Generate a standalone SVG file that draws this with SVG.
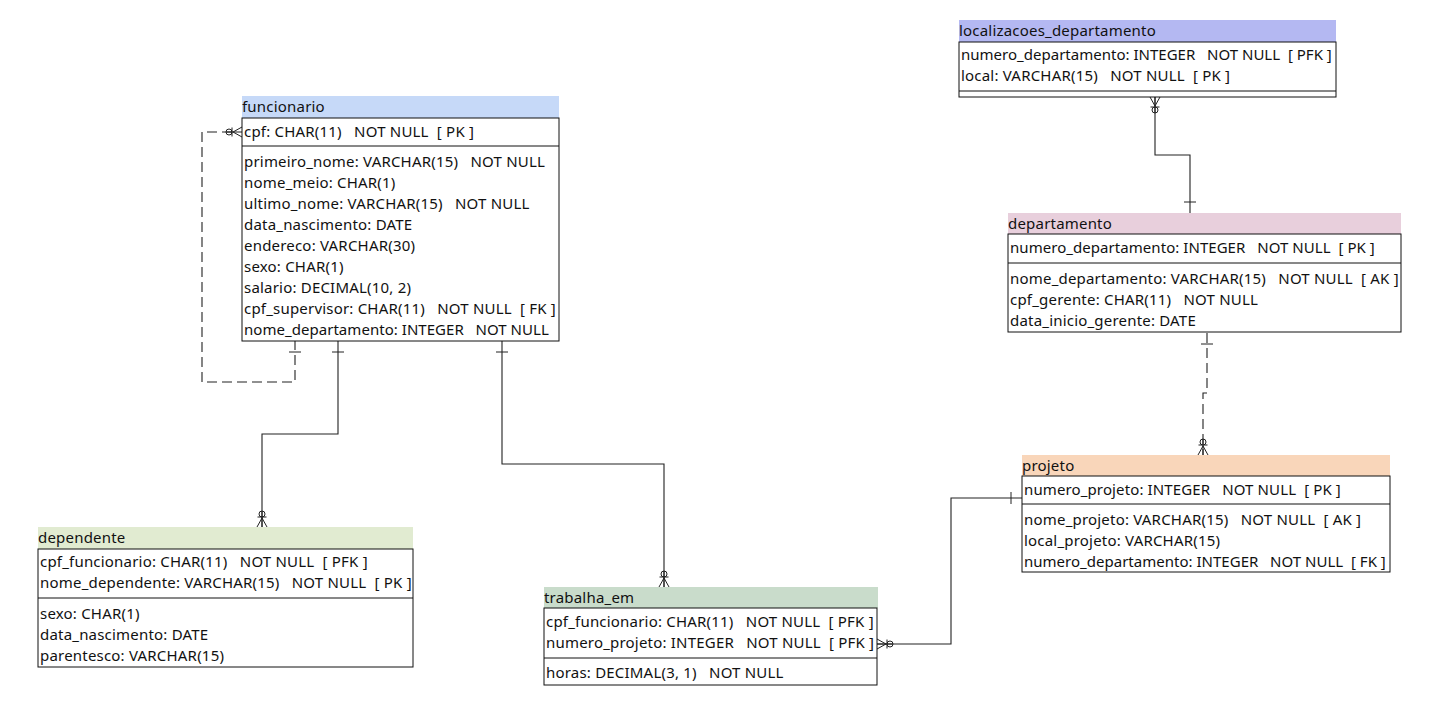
<svg xmlns="http://www.w3.org/2000/svg" xmlns:xlink="http://www.w3.org/1999/xlink" width="1430" height="716" viewBox="0 0 1430 716" xml:space="preserve">
<style>
text{font-family:"Noto Sans","Open Sans","DejaVu Sans",sans-serif;font-size:15px;letter-spacing:0.2px;fill:#111;white-space:pre}
.box{fill:#fff;stroke:#111;stroke-width:1}
.div{stroke:#111;stroke-width:1}
.conn{fill:none;stroke:#222;stroke-width:1.1}
.dash{stroke-dasharray:10,5}
.sym{fill:none;stroke:#222;stroke-width:1}
</style>
<defs>
<g id="zm" class="sym">
<path d="M-5,0 L0,-9 L5,0 M0,0 V-16"/>
<path d="M-4.5,-10 H4.5"/>
<circle cx="0" cy="-13" r="3"/>
</g>
<g id="one" class="sym">
<path d="M-6,-11 H6"/>
</g>
</defs>
<rect width="1430" height="716" fill="#fff"/>

<g id="connectors">
<path class="conn dash" d="M232,132 H202 V382 H295 V341"/>
<path class="conn" d="M338,341 V434 H262 V527"/>
<path class="conn" d="M502,341 V464 H664 V587"/>
<path class="conn" d="M1022,498 H951 V644 H877"/>
<path class="conn" d="M1155,97 V155 H1190 V213"/>
<path class="conn dash" d="M1207,333 V393 H1203 V455"/>
<use xlink:href="#zm" transform="translate(242,132) rotate(-90)"/>
<use xlink:href="#one" transform="translate(295,341) rotate(180)"/>
<use xlink:href="#one" transform="translate(338,341) rotate(180)"/>
<use xlink:href="#zm" transform="translate(262,527)"/>
<use xlink:href="#one" transform="translate(502,341) rotate(180)"/>
<use xlink:href="#zm" transform="translate(664,587)"/>
<use xlink:href="#one" transform="translate(1022,498) rotate(-90)"/>
<use xlink:href="#zm" transform="translate(877,644) rotate(90)"/>
<use xlink:href="#zm" transform="translate(1155,97) rotate(180)"/>
<use xlink:href="#one" transform="translate(1190,213)"/>
<use xlink:href="#one" transform="translate(1207,333) rotate(180)"/>
<use xlink:href="#zm" transform="translate(1203,455)"/>
</g>

<g id="funcionario">
<rect x="242" y="96" width="317" height="22" fill="#c6d9f8"/>
<text x="242" y="112">funcionario</text>
<rect class="box" x="242" y="118" width="317" height="223"/>
<line class="div" x1="242" y1="146" x2="559" y2="146"/>
<text x="244" y="137">cpf: CHAR(11)   NOT NULL  [ PK ]</text>
<text x="244" y="167">primeiro_nome: VARCHAR(15)   NOT NULL</text>
<text x="244" y="188">nome_meio: CHAR(1)</text>
<text x="244" y="209">ultimo_nome: VARCHAR(15)   NOT NULL</text>
<text x="244" y="230">data_nascimento: DATE</text>
<text x="244" y="251">endereco: VARCHAR(30)</text>
<text x="244" y="272">sexo: CHAR(1)</text>
<text x="244" y="293">salario: DECIMAL(10, 2)</text>
<text x="244" y="314">cpf_supervisor: CHAR(11)   NOT NULL  [ FK ]</text>
<text x="244" y="335" textLength="305" lengthAdjust="spacing">nome_departamento: INTEGER   NOT NULL</text>
</g>

<g id="localizacoes_departamento">
<rect x="959" y="20" width="377" height="22" fill="#b4b8f2"/>
<text x="959" y="36">localizacoes_departamento</text>
<rect class="box" x="959" y="42" width="377" height="55"/>
<line class="div" x1="959" y1="91" x2="1336" y2="91"/>
<text x="961" y="60" textLength="371" lengthAdjust="spacing">numero_departamento: INTEGER   NOT NULL  [ PFK ]</text>
<text x="961" y="81">local: VARCHAR(15)   NOT NULL  [ PK ]</text>
</g>

<g id="departamento">
<rect x="1008" y="213" width="393" height="21" fill="#e8cfdc"/>
<text x="1008" y="229">departamento</text>
<rect class="box" x="1008" y="234" width="393" height="98"/>
<line class="div" x1="1008" y1="263" x2="1401" y2="263"/>
<text x="1010" y="253" textLength="365" lengthAdjust="spacing">numero_departamento: INTEGER   NOT NULL  [ PK ]</text>
<text x="1010" y="284">nome_departamento: VARCHAR(15)   NOT NULL  [ AK ]</text>
<text x="1010" y="305">cpf_gerente: CHAR(11)   NOT NULL</text>
<text x="1010" y="326">data_inicio_gerente: DATE</text>
</g>

<g id="projeto">
<rect x="1022" y="455" width="368" height="21" fill="#f9d6ba"/>
<text x="1022" y="471">projeto</text>
<rect class="box" x="1022" y="476" width="368" height="96"/>
<line class="div" x1="1022" y1="504" x2="1390" y2="504"/>
<text x="1024" y="495" textLength="317" lengthAdjust="spacing">numero_projeto: INTEGER   NOT NULL  [ PK ]</text>
<text x="1024" y="525">nome_projeto: VARCHAR(15)   NOT NULL  [ AK ]</text>
<text x="1024" y="546">local_projeto: VARCHAR(15)</text>
<text x="1024" y="567" textLength="362" lengthAdjust="spacing">numero_departamento: INTEGER   NOT NULL  [ FK ]</text>
</g>

<g id="dependente">
<rect x="38" y="527" width="375" height="22" fill="#e1ebd1"/>
<text x="38" y="543">dependente</text>
<rect class="box" x="38" y="549" width="375" height="118"/>
<line class="div" x1="38" y1="598" x2="413" y2="598"/>
<text x="40" y="567">cpf_funcionario: CHAR(11)   NOT NULL  [ PFK ]</text>
<text x="40" y="588">nome_dependente: VARCHAR(15)   NOT NULL  [ PK ]</text>
<text x="40" y="619">sexo: CHAR(1)</text>
<text x="40" y="640">data_nascimento: DATE</text>
<text x="40" y="661">parentesco: VARCHAR(15)</text>
</g>

<g id="trabalha_em">
<rect x="544" y="587" width="334" height="21" fill="#c9dccb"/>
<text x="544" y="603">trabalha_em</text>
<rect class="box" x="544" y="608" width="333" height="77"/>
<line class="div" x1="544" y1="658" x2="877" y2="658"/>
<text x="546" y="627">cpf_funcionario: CHAR(11)   NOT NULL  [ PFK ]</text>
<text x="546" y="648">numero_projeto: INTEGER   NOT NULL  [ PFK ]</text>
<text x="546" y="678">horas: DECIMAL(3, 1)   NOT NULL</text>
</g>
</svg>
